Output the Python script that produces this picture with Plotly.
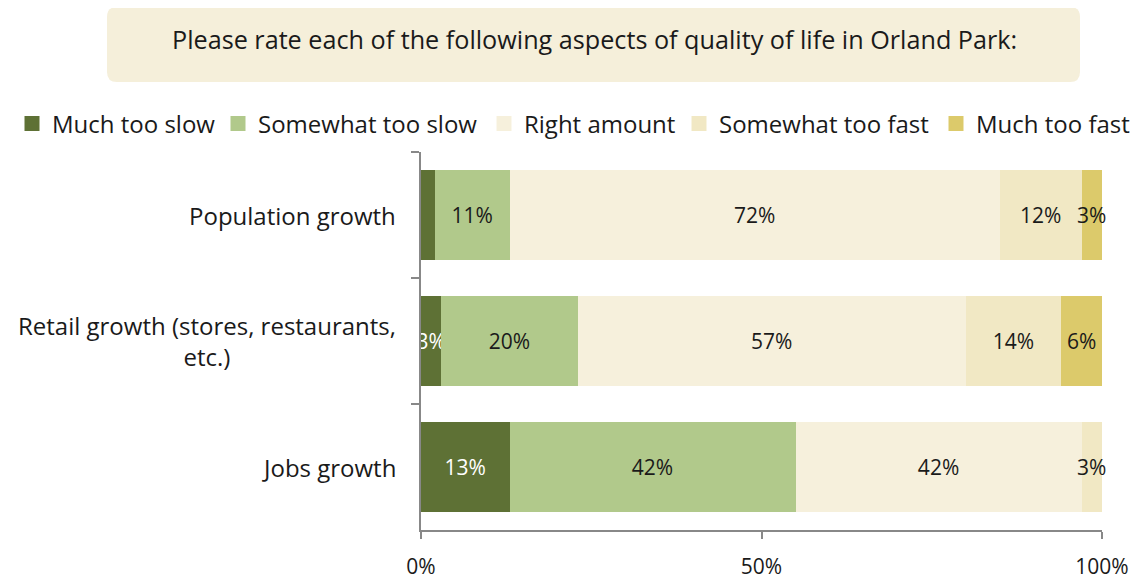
import plotly.graph_objects as go

categories = ["Population growth", "Retail growth (stores, restaurants,<br>etc.)", "Jobs growth"]
series_names = ["Much too slow", "Somewhat too slow", "Right amount", "Somewhat too fast", "Much too fast"]
much_too_slow = [2, 3, 13]
somewhat_too_slow = [11, 20, 42]
right_amount = [72, 57, 42]
somewhat_too_fast = [12, 14, 3]
much_too_fast = [3, 6, 0.4]
labels_much_too_slow = ["", "3%", "13%"]
labels_somewhat_too_slow = ["11%", "20%", "42%"]
labels_right_amount = ["72%", "57%", "42%"]
labels_somewhat_too_fast = ["12%", "14%", "3%"]
labels_much_too_fast = ["3%", "6%", ""]
x_tick_vals = [0, 50, 100]
x_tick_text = ["0%", "50%", "100%"]
title_text = "Please rate each of the following aspects of quality of life in Orland Park:"

series_values = [much_too_slow, somewhat_too_slow, right_amount, somewhat_too_fast, much_too_fast]
series_labels = [labels_much_too_slow, labels_somewhat_too_slow, labels_right_amount,
                 labels_somewhat_too_fast, labels_much_too_fast]
colors = ["#5E7135", "#B1C98B", "#F6F0DC", "#F1E8C4", "#DCCA6B"]
text_colors = ["white", "#1a1a1a", "#1a1a1a", "#1a1a1a", "#1a1a1a"]
legend_ids = ["legend", "legend2", "legend3", "legend4", "legend5"]
legend_text_x = [52, 258, 524, 719, 976]  # screen px where each legend label starts

FONT = "Open Sans"
W, H = 1138, 581
OFF = 8  # browser body margin offset

fig = go.Figure()
for name, vals, labs, col, tcol in zip(series_names, series_values, series_labels,
                                       colors, text_colors):
    fig.add_trace(go.Bar(
        name=name, y=categories, x=vals, orientation="h", showlegend=False,
        marker=dict(color=col, line=dict(width=0)), cliponaxis=False,
        text=labs, textposition="inside", insidetextanchor="middle",
        constraintext="none", textangle=0,
        textfont=dict(family=FONT, size=21, color=tcol),
        hoverinfo="skip",
    ))

# legend entries (bigger square swatches via outline of same colour)
for name, col, lid in zip(series_names, colors, legend_ids):
    fig.add_trace(go.Bar(
        name=name, x=[None], y=[None], orientation="h", legend=lid, showlegend=True,
        marker=dict(color=col, line=dict(width=3, color=col)), hoverinfo="skip",
    ))

# Plot area in (screen) pixels: left 421, right 1102, top 152, bottom 530
PL, PR, PT, PB = 421, 1102, 152, 530
def px(x):
    return (x - PL) / (PR - PL)
def py(y):
    return (PB - y) / (PB - PT)

# rounded title box
x0, x1, y0, y1 = px(107), px(1080), py(82), py(7)
rx, ry = 10 / (PR - PL), 10 / (PB - PT)
path = (f"M {x0+rx},{y1} L {x1-rx},{y1} Q {x1},{y1} {x1},{y1-ry} "
        f"L {x1},{y0+ry} Q {x1},{y0} {x1-rx},{y0} L {x0+rx},{y0} "
        f"Q {x0},{y0} {x0},{y0+ry} L {x0},{y1-ry} Q {x0},{y1} {x0+rx},{y1} Z")
fig.add_shape(type="path", path=path, xref="paper", yref="paper",
              fillcolor="#F5EFDA", line=dict(width=0), layer="below")
fig.add_annotation(text=title_text, xref="paper", yref="paper",
                   x=px(594), y=py(39), xanchor="center", yanchor="middle",
                   showarrow=False, font=dict(family=FONT, size=25.2, color="#1a1a1a"))

# category labels (centered multi-line, right-aligned block)
for cat in categories:
    fig.add_annotation(text=cat, xref="paper", yref="y", x=px(398), y=cat,
                       xanchor="right", yanchor="middle", align="center", showarrow=False,
                       font=dict(family=FONT, size=24, color="#1a1a1a"))

legend_layouts = {}
for lid, tx in zip(legend_ids, legend_text_x):
    legend_layouts[lid] = dict(
        orientation="h", x=px(tx - 40), y=py(124), xanchor="left", yanchor="middle",
        font=dict(family=FONT, size=24, color="#1a1a1a"),
        itemclick=False, itemdoubleclick=False, bgcolor="rgba(0,0,0,0)",
    )

fig.update_layout(
    width=W, height=H,
    margin=dict(l=PL - OFF, r=W - PR + OFF, t=PT - OFF, b=H - PB + OFF, autoexpand=False),
    barmode="stack", bargap=0.2857,
    plot_bgcolor="white", paper_bgcolor="white",
    font=dict(family=FONT, size=20, color="#1a1a1a"),
    showlegend=True,
    xaxis=dict(range=[0, 100], tickvals=x_tick_vals, ticktext=x_tick_text, automargin=False,
               showgrid=False, zeroline=False, showline=True, linecolor="#888888", linewidth=2,
               ticks="outside", ticklen=7, tickwidth=2, tickcolor="#888888",
               tickfont=dict(family=FONT, size=21, color="#1a1a1a"), ticklabelstandoff=10),
    yaxis=dict(autorange="reversed", showgrid=False, zeroline=False, automargin=False,
               categoryorder="array", categoryarray=categories,
               showline=True, linecolor="#888888", linewidth=2, showticklabels=False,
               ticks="outside", ticklen=8, tickwidth=2, tickcolor="#888888", tickson="boundaries"),
    **legend_layouts,
)

fig.write_html("out.html")
